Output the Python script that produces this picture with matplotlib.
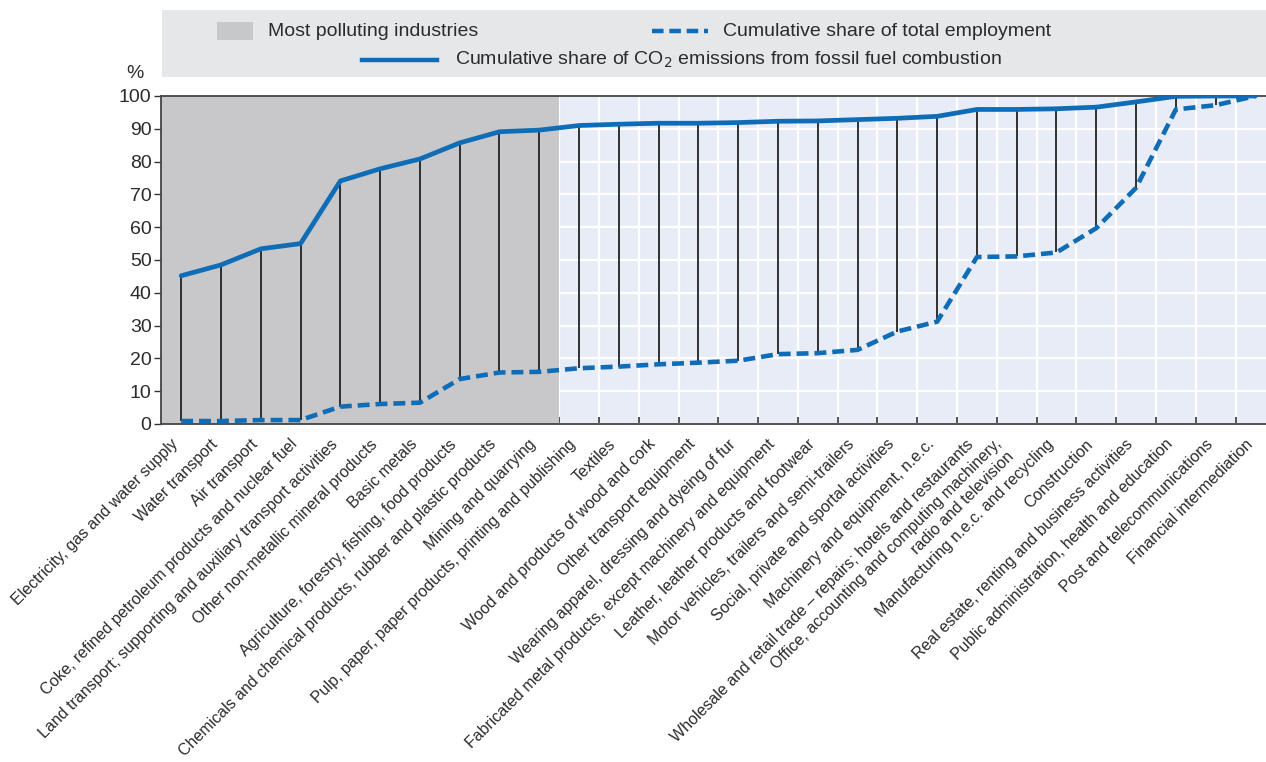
import matplotlib
matplotlib.use("Agg")
import matplotlib.pyplot as plt
from matplotlib.patches import Rectangle
from matplotlib.lines import Line2D
import numpy as np

plt.rcParams['font.family'] = ['Liberation Sans Narrow', 'Liberation Sans', 'DejaVu Sans']

industries = [
    "Electricity, gas and water supply",
    "Water transport",
    "Air transport",
    "Coke, refined petroleum products and nuclear fuel",
    "Land transport; supporting and auxiliary transport activities",
    "Other non-metallic mineral products",
    "Basic metals",
    "Agriculture, forestry, fishing, food products",
    "Chemicals and chemical products, rubber and plastic products",
    "Mining and quarrying",
    "Pulp, paper, paper products, printing and publishing",
    "Textiles",
    "Wood and products of wood and cork",
    "Other transport equipment",
    "Wearing apparel, dressing and dyeing of fur",
    "Fabricated metal products, except machinery and equipment",
    "Leather, leather products and footwear",
    "Motor vehicles, trailers and semi-trailers",
    "Social, private and sportal activities",
    "Machinery and equipment, n.e.c.",
    "Wholesale and retail trade \u2013 repairs; hotels and restaurants",
    "Office, accounting and computing machinery,\nradio and television",
    "Manufacturing n.e.c. and recycling",
    "Construction",
    "Real estate, renting and business activities",
    "Public administration, health and education",
    "Post and telecommunications",
    "Financial intermediation",
]

co2_cum = [45.2, 48.5, 53.4, 55.0, 74.1, 77.8, 80.8, 85.7, 89.1, 89.6,
           91.0, 91.4, 91.7, 91.7, 91.9, 92.3, 92.4, 92.8, 93.2, 93.8,
           95.9, 95.9, 96.1, 96.6, 98.2, 99.9, 100.0, 100.0]
emp_cum = [0.9, 0.9, 1.2, 1.2, 5.3, 6.1, 6.5, 13.7, 15.7, 15.9,
           17.0, 17.5, 18.2, 18.7, 19.3, 21.3, 21.6, 22.6, 28.2, 31.2,
           50.9, 51.1, 52.3, 59.7, 72.0, 95.9, 97.2, 100.0]
n_polluting = 10

legend_labels = ["Most polluting industries",
                 "Cumulative share of total employment",
                 "Cumulative share of CO$_2$ emissions from fossil fuel combustion"]
y_ticks = [0, 10, 20, 30, 40, 50, 60, 70, 80, 90, 100]

BLUE = "#0f6cb6"
DARKGRAY = "#c8c8ca"
LIGHTBG = "#e8ecf6"
LEGBG = "#e6e7e9"
TXT = "#2b2b2b"

W, H = 1266, 762
fig = plt.figure(figsize=(W / 100, H / 100), dpi=100)
ax = fig.add_axes([161.3 / W, (H - 424) / H, 1114 / W, 328 / H])
ax.set_facecolor(LIGHTBG)

x = np.arange(len(industries))
ax.set_xlim(-0.5, len(industries) - 0.5)
ax.set_ylim(0, 100)

# grid
ax.set_yticks(y_ticks)
ax.set_xticks(x)
ax.set_xticks(np.arange(len(industries) - 1) + 0.5, minor=True)
ax.grid(True, which='major', axis='y', color='white', lw=1.6, zorder=0)
ax.grid(True, which='minor', axis='x', color='white', lw=1.6, zorder=0)
ax.set_axisbelow(True)

# most polluting shading
ax.axvspan(-0.5, n_polluting - 0.5, color=DARKGRAY, lw=0, zorder=1)

# connecting vertical lines
ax.vlines(x, emp_cum, co2_cum, color="#222222", lw=1.3, zorder=2)
ax.plot(x, emp_cum, color=BLUE, lw=3.3, ls=(0, (2.6, 1.3)), zorder=3,
        solid_capstyle='butt', dash_capstyle='butt')
ax.plot(x, co2_cum, color=BLUE, lw=3.4, zorder=4, solid_capstyle='round')

# ticks
ax.tick_params(axis='x', which='major', length=0, pad=9)
ax.tick_params(axis='x', which='minor', direction='in', length=5, width=1.2,
               color='#333333')
ax.tick_params(axis='y', which='major', direction='out', length=5, width=1.0,
               color='#333333', pad=2, labelsize=14, labelcolor=TXT)
ax.set_xticklabels(industries, rotation=45, ha='right', va='top',
                   fontsize=11.5, color=TXT, multialignment='right')

for side in ['left', 'bottom', 'top']:
    ax.spines[side].set_color('#444444')
    ax.spines[side].set_linewidth(1.3)
ax.spines['right'].set_visible(False)

fig.text(135 / W, (H - 73) / H, "%", ha='center', va='center',
         fontsize=14, color=TXT)

# legend box
fig.add_artist(Rectangle((162 / W, (H - 77) / H), (W - 162) / W, 67 / H,
                         transform=fig.transFigure, facecolor=LEGBG,
                         edgecolor='none', zorder=0))
fig.add_artist(Rectangle((217 / W, (H - 40) / H), 36 / W, 18 / H,
                         transform=fig.transFigure, facecolor=DARKGRAY,
                         edgecolor='none'))
fig.text(268 / W, (H - 31) / H, legend_labels[0], ha='left', va='center',
         fontsize=14, color=TXT)
fig.add_artist(Line2D([652 / W, 708 / W], [(H - 31) / H, (H - 31) / H],
                      transform=fig.transFigure, color=BLUE, lw=3.2,
                      ls=(0, (2.6, 1.3))))
fig.text(723 / W, (H - 31) / H, legend_labels[1], ha='left', va='center',
         fontsize=14, color=TXT)
fig.add_artist(Line2D([362 / W, 437 / W], [(H - 60) / H, (H - 60) / H],
                      transform=fig.transFigure, color=BLUE, lw=3.2))
fig.text(455 / W, (H - 60) / H, legend_labels[2], ha='left', va='center',
         fontsize=14, color=TXT)

fig.savefig("out.png", dpi=100)
